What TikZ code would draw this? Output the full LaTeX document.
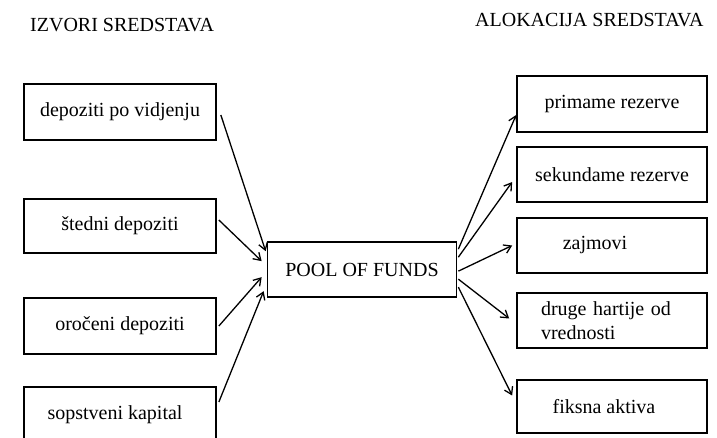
\documentclass[tikz,border=0pt]{standalone}
\usepackage{fontspec}
\setmainfont{Liberation Serif}
\usetikzlibrary{positioning,arrows.meta}

\begin{document}
\begin{tikzpicture}[x=1pt, y=-1pt,
  % Node Styles
  srcbox/.style={rectangle, draw, line width=1.7pt, minimum height=56pt, minimum width=192pt, align=center, inner sep=2pt},
  poolbox/.style={rectangle, draw, line width=1.7pt, minimum height=55pt, minimum width=189pt, align=center},
  allocbox/.style={rectangle, draw, line width=1.7pt, minimum height=55pt, minimum width=190pt, align=center, inner sep=2pt},
  headtext/.style={anchor=west, inner sep=0pt},
  % Arrow Styles
  solidarrow/.style={-{Straight Barb[length=7pt, width=9pt]}, line width=1.3pt},
]
\tikzset{font=\fontsize{20}{24}\selectfont}
\clip (0,0) rectangle (717,437);

% Izvori i alokacija sredstava

\node[headtext] (H_IZVORI) at (30,25) {IZVORI SREDSTAVA};
\node[headtext] (H_ALOKACIJA) at (475,20) {ALOKACIJA SREDSTAVA};

\node[srcbox] (D_VIDJENJU) at (120,112) {depoziti po vidjenju};
\node[srcbox, minimum height=54pt] (D_STEDNI) at (120,226) {štedni depoziti};
\node[srcbox] (D_OROCENI) at (120,326) {oročeni depoziti};
\node[srcbox] (K_SOPSTVENI) at (120,415) {\hspace*{-10pt}sopstveni kapital};

\node[poolbox] (POOL) at (362,269.5) {POOL OF FUNDS};

\node[allocbox, minimum height=56pt] (A_PRIMARNE) at (612,104) {primame rezerve};
\node[allocbox] (A_SEKUNDARNE) at (612,174.5) {sekundame rezerve};
\node[allocbox] (A_ZAJMOVI) at (612,245.5) {\hspace*{-34pt}zajmovi};
\node[allocbox, text width=142pt, align=left, inner sep=24pt, minimum height=55pt, inner ysep=2pt] (A_HARTIJE) at (612,320.5) {druge hartije od\\ vrednosti};
\node[allocbox, minimum height=53pt] (A_FIKSNA) at (612,406.5) {\hspace*{-16pt}fiksna aktiva};

\draw[solidarrow] ([xshift=4pt,yshift=-3pt]D_VIDJENJU.east) -- ([xshift=-1pt,yshift=-10pt]POOL.north west);
\draw[solidarrow] ([xshift=2pt,yshift=6pt]D_STEDNI.east) -- ([xshift=-5pt,yshift=-20pt]POOL.north west);
\draw[solidarrow] ([xshift=2pt]D_OROCENI.east) -- ([xshift=-5pt,yshift=-36pt]POOL.north west);
\draw[solidarrow] ([xshift=2pt,yshift=13pt]K_SOPSTVENI.east) -- ([xshift=-3pt,yshift=-50pt]POOL.north west);

\draw[solidarrow] ([xshift=1pt,yshift=-8pt]POOL.north east) -- ([yshift=-11pt]A_PRIMARNE.west);
\draw[solidarrow] ([xshift=1pt,yshift=-16pt]POOL.north east) -- ([xshift=-4pt,yshift=-7.5pt]A_SEKUNDARNE.west);
\draw[solidarrow] ([xshift=1pt,yshift=-30pt]POOL.north east) -- ([xshift=-4pt]A_ZAJMOVI.west);
\draw[solidarrow] ([xshift=1pt,yshift=-38pt]POOL.north east) -- ([xshift=-7pt,yshift=2pt]A_HARTIJE.west);
\draw[solidarrow] ([xshift=1pt,yshift=-46pt]POOL.north east) -- ([xshift=-4pt,yshift=11pt]A_FIKSNA.west);

\end{tikzpicture}
\end{document}
